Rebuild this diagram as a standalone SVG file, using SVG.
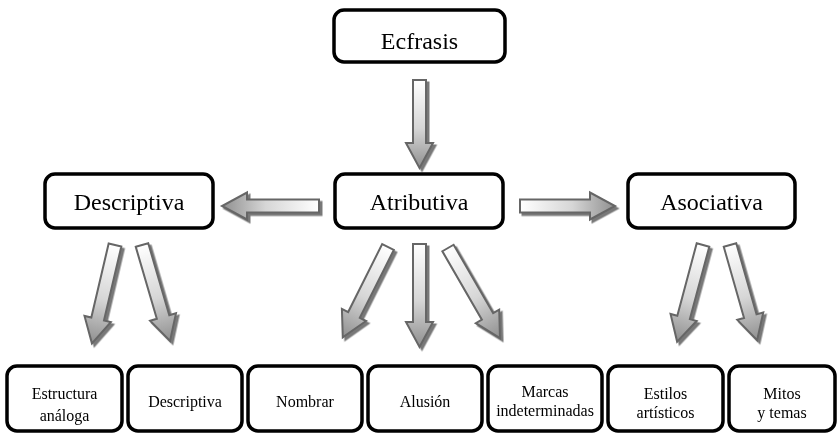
<svg xmlns="http://www.w3.org/2000/svg" width="838" height="434" viewBox="0 0 838 434">
<style>
.box{fill:#fff;stroke:#000;stroke-width:3.5}
.t1{font-family:"Liberation Serif","Times New Roman",serif;font-size:24px;fill:#000;text-anchor:middle}
.t2{font-family:"Liberation Serif","Times New Roman",serif;font-size:16px;fill:#000;text-anchor:middle}
.arr{fill:url(#ag);stroke:#666;stroke-width:2;stroke-linejoin:miter}
</style>
<defs>
<linearGradient id="ag" x1="0" y1="0" x2="0" y2="1">
<stop offset="0" stop-color="#ffffff"/>
<stop offset="0.55" stop-color="#d6d6d6"/>
<stop offset="1" stop-color="#8f8f8f"/>
</linearGradient>
<filter id="sh" x="-20%" y="-20%" width="140%" height="140%">
<feDropShadow dx="2.5" dy="2.5" stdDeviation="0.7" flood-color="#6a6a6a" flood-opacity="0.9"/>
</filter>
</defs>
<rect width="838" height="434" fill="#fff"/>
<g id="connectors" filter="url(#sh)">
<path class="arr" transform="translate(419.5,80)" d="M-6.5,0H6.5V63H13.5L0,88L-13.5,63H-6.5Z"/>
<path class="arr" transform="translate(319,206) rotate(90)" d="M-6.5,0H6.5V72H13.5L0,97L-13.5,72H-6.5Z"/>
<path class="arr" transform="translate(520,206) rotate(-90)" d="M-6.5,0H6.5V70H13.5L0,95L-13.5,70H-6.5Z"/>
<path class="arr" transform="translate(115,245) rotate(13.2)" d="M-6.5,0H6.5V76H13.5L0,101L-13.5,76H-6.5Z"/>
<path class="arr" transform="translate(142,245) rotate(-16.3)" d="M-6.5,0H6.5V75H13.5L0,100L-13.5,75H-6.5Z"/>
<path class="arr" transform="translate(388,247) rotate(26.6)" d="M-6.5,0H6.5V76H13.5L0,101L-13.5,76H-6.5Z"/>
<path class="arr" transform="translate(419.5,244)" d="M-6.5,0H6.5V78H13.5L0,103L-13.5,78H-6.5Z"/>
<path class="arr" transform="translate(448,248) rotate(-30)" d="M-6.5,0H6.5V79H13.5L0,104L-13.5,79H-6.5Z"/>
<path class="arr" transform="translate(703,245) rotate(15)" d="M-6.5,0H6.5V75H13.5L0,100L-13.5,75H-6.5Z"/>
<path class="arr" transform="translate(730,245) rotate(-15.9)" d="M-6.5,0H6.5V74H13.5L0,99L-13.5,74H-6.5Z"/>
</g>
<g id="ecfrasis"><rect class="box" x="334" y="10" width="171" height="52" rx="10"/><text class="t1" x="419.5" y="49">Ecfrasis</text></g>
<g id="descriptiva"><rect class="box" x="45" y="174" width="168" height="54" rx="10"/><text class="t1" x="129" y="210">Descriptiva</text></g>
<g id="atributiva"><rect class="box" x="335" y="174" width="168" height="54" rx="10"/><text class="t1" x="419" y="210">Atributiva</text></g>
<g id="asociativa"><rect class="box" x="628" y="174" width="167" height="54" rx="10"/><text class="t1" x="711.5" y="210">Asociativa</text></g>
<g id="estructura"><rect class="box" x="7" y="366" width="115" height="65" rx="10"/><text class="t2" x="64.5" y="399">Estructura</text><text class="t2" x="64.5" y="421">análoga</text></g>
<g id="descriptiva2"><rect class="box" x="128" y="366" width="114" height="65" rx="10"/><text class="t2" x="185" y="407">Descriptiva</text></g>
<g id="nombrar"><rect class="box" x="248" y="366" width="114" height="65" rx="10"/><text class="t2" x="305" y="407">Nombrar</text></g>
<g id="alusion"><rect class="box" x="368" y="366" width="114" height="65" rx="10"/><text class="t2" x="425" y="407">Alusión</text></g>
<g id="marcas"><rect class="box" x="488" y="366" width="114" height="65" rx="10"/><text class="t2" x="545" y="397">Marcas</text><text class="t2" x="545" y="416">indeterminadas</text></g>
<g id="estilos"><rect class="box" x="608" y="366" width="115" height="65" rx="10"/><text class="t2" x="665.5" y="399">Estilos</text><text class="t2" x="665.5" y="418">artísticos</text></g>
<g id="mitos"><rect class="box" x="729" y="366" width="106" height="65" rx="10"/><text class="t2" x="782" y="399">Mitos</text><text class="t2" x="782" y="418">y temas</text></g>
</svg>
